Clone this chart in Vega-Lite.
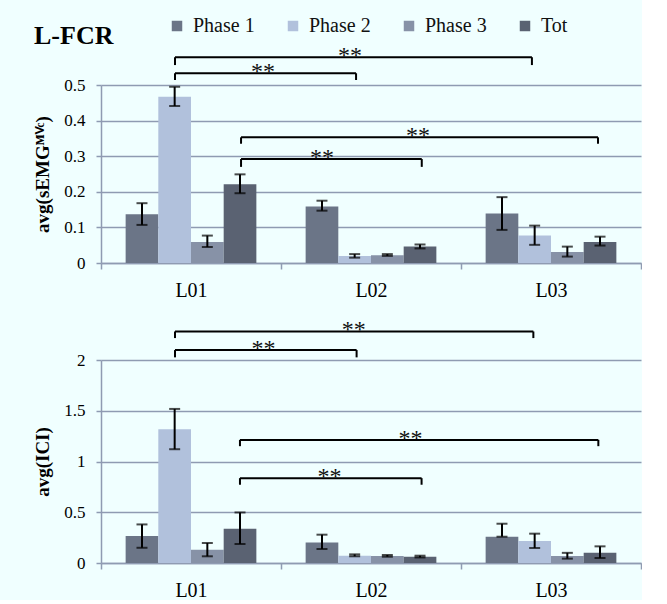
{
  "$schema": "https://vega.github.io/schema/vega-lite/v6.json",
  "background": "#f0ffff",
  "padding": {"left": 33, "top": 16, "right": 0, "bottom": 0},
  "config": {
    "view": {"stroke": null},
    "axis": {
      "labelFont": "Liberation Serif", "labelColor": "black",
      "titleFont": "Liberation Serif", "titleColor": "black", "titleFontWeight": "bold", "titleFontSize": 19,
      "domainColor": "#8f9bb2", "domainWidth": 1.5, "tickColor": "#8f9bb2", "tickWidth": 1.5,
      "gridColor": "#8f9bb2", "gridWidth": 1.5, "labelOverlap": false
    }
  },
  "datasets": {
    "emg": [
      {"loc": "L01", "phase": "Phase 1", "v": 0.137, "lo": 0.107, "hi": 0.168},
      {"loc": "L01", "phase": "Phase 2", "v": 0.467, "lo": 0.441, "hi": 0.495},
      {"loc": "L01", "phase": "Phase 3", "v": 0.059, "lo": 0.045, "hi": 0.077},
      {"loc": "L01", "phase": "Tot", "v": 0.221, "lo": 0.196, "hi": 0.249},
      {"loc": "L02", "phase": "Phase 1", "v": 0.159, "lo": 0.147, "hi": 0.175},
      {"loc": "L02", "phase": "Phase 2", "v": 0.020, "lo": 0.015, "hi": 0.025},
      {"loc": "L02", "phase": "Phase 3", "v": 0.022, "lo": 0.020, "hi": 0.025},
      {"loc": "L02", "phase": "Tot", "v": 0.046, "lo": 0.041, "hi": 0.052},
      {"loc": "L03", "phase": "Phase 1", "v": 0.139, "lo": 0.093, "hi": 0.185},
      {"loc": "L03", "phase": "Phase 2", "v": 0.077, "lo": 0.051, "hi": 0.105},
      {"loc": "L03", "phase": "Phase 3", "v": 0.031, "lo": 0.018, "hi": 0.046},
      {"loc": "L03", "phase": "Tot", "v": 0.059, "lo": 0.049, "hi": 0.074}
    ],
    "ici": [
      {"loc": "L01", "phase": "Phase 1", "v": 0.266, "lo": 0.150, "hi": 0.380},
      {"loc": "L01", "phase": "Phase 2", "v": 1.318, "lo": 1.121, "hi": 1.518},
      {"loc": "L01", "phase": "Phase 3", "v": 0.131, "lo": 0.066, "hi": 0.197},
      {"loc": "L01", "phase": "Tot", "v": 0.338, "lo": 0.187, "hi": 0.498},
      {"loc": "L02", "phase": "Phase 1", "v": 0.203, "lo": 0.138, "hi": 0.279},
      {"loc": "L02", "phase": "Phase 2", "v": 0.072, "lo": 0.066, "hi": 0.085},
      {"loc": "L02", "phase": "Phase 3", "v": 0.069, "lo": 0.062, "hi": 0.079},
      {"loc": "L02", "phase": "Tot", "v": 0.062, "lo": 0.055, "hi": 0.072},
      {"loc": "L03", "phase": "Phase 1", "v": 0.259, "lo": 0.259, "hi": 0.387},
      {"loc": "L03", "phase": "Phase 2", "v": 0.216, "lo": 0.148, "hi": 0.289},
      {"loc": "L03", "phase": "Phase 3", "v": 0.069, "lo": 0.043, "hi": 0.100},
      {"loc": "L03", "phase": "Tot", "v": 0.102, "lo": 0.049, "hi": 0.164}
    ],
    "emgBr": [
      {"x1": 0.411, "x2": 1.417, "y": 0.533, "yd": 0.514, "xm": 0.9},
      {"x1": 0.411, "x2": 2.394, "y": 0.578, "yd": 0.556, "xm": 1.383},
      {"x1": 0.778, "x2": 1.782, "y": 0.292, "yd": 0.270, "xm": 1.228},
      {"x1": 0.778, "x2": 2.761, "y": 0.353, "yd": 0.335, "xm": 1.761}
    ],
    "iciBr": [
      {"x1": 0.411, "x2": 1.42, "y": 2.098, "yd": 2.026, "xm": 0.903},
      {"x1": 0.411, "x2": 2.402, "y": 2.281, "yd": 2.216, "xm": 1.404},
      {"x1": 0.772, "x2": 1.781, "y": 0.836, "yd": 0.771, "xm": 1.27},
      {"x1": 0.772, "x2": 2.763, "y": 1.213, "yd": 1.151, "xm": 1.72}
    ]
  },
  "resolve": {"scale": {"color": "independent"}},
  "spacing": 18,
  "vconcat": [
    {
      "width": 540, "height": 178,
      "layer": [
        {
          "data": {"name": "emg"},
          "encoding": {
            "x": {"field": "loc", "type": "nominal", "scale": {"paddingInner": 0, "paddingOuter": 0},
                  "axis": {"title": null, "labelAngle": 0, "labelFontSize": 20, "labelPadding": 11, "tickSize": 6, "tickBand": "extent"}},
            "xOffset": {"field": "phase", "type": "nominal", "sort": ["Phase 1", "Phase 2", "Phase 3", "Tot"], "scale": {"paddingInner": 0, "paddingOuter": 0.754}}
          },
          "layer": [
            {
              "mark": {"type": "bar"},
              "encoding": {
                "y": {"field": "v", "type": "quantitative", "scale": {"domain": [0, 0.5], "nice": false},
                      "axis": {"title": "avg(sEMGᴹⱽᶜ)", "values": [0, 0.1, 0.2, 0.3, 0.4, 0.5], "format": "~g", "labelFontSize": 17, "labelPadding": 11, "tickSize": 5, "titlePadding": 11}},
                "color": {"field": "phase", "type": "nominal",
                          "scale": {"domain": ["Phase 1", "Phase 2", "Phase 3", "Tot"], "range": ["#6b7587", "#b1c1dc", "#8792a7", "#5a6272"]},
                          "legend": {"orient": "none", "legendX": -67, "legendY": -69, "direction": "horizontal",
                                     "title": "L-FCR", "titleOrient": "left", "titleAnchor": "end", "titleBaseline": "middle",
                                     "titleFont": "Liberation Serif", "titleFontSize": 26,
                                     "titleFontWeight": "bold", "titleColor": "black", "titlePadding": 53,
                                     "labelFont": "Liberation Serif", "labelFontSize": 20, "labelColor": "#111", "labelOffset": 6,
                                     "symbolType": "square", "symbolSize": 110, "symbolStrokeWidth": 0, "columnPadding": 28}}
              }
            },
            {
              "mark": {"type": "rule", "color": "black", "strokeWidth": 2},
              "encoding": {"y": {"field": "lo", "type": "quantitative",
                      "axis": {"title": "avg(sEMGᴹⱽᶜ)", "values": [0, 0.1, 0.2, 0.3, 0.4, 0.5], "format": "~g", "labelFontSize": 17, "labelPadding": 11, "tickSize": 5, "titlePadding": 11}},
                           "y2": {"field": "hi"}}
            },
            {
              "mark": {"type": "tick", "orient": "horizontal", "color": "black", "thickness": 2, "size": 11},
              "encoding": {"y": {"field": "lo", "type": "quantitative",
                      "axis": {"title": "avg(sEMGᴹⱽᶜ)", "values": [0, 0.1, 0.2, 0.3, 0.4, 0.5], "format": "~g", "labelFontSize": 17, "labelPadding": 11, "tickSize": 5, "titlePadding": 11}}}
            },
            {
              "mark": {"type": "tick", "orient": "horizontal", "color": "black", "thickness": 2, "size": 11},
              "encoding": {"y": {"field": "hi", "type": "quantitative",
                      "axis": {"title": "avg(sEMGᴹⱽᶜ)", "values": [0, 0.1, 0.2, 0.3, 0.4, 0.5], "format": "~g", "labelFontSize": 17, "labelPadding": 11, "tickSize": 5, "titlePadding": 11}}}
            }
          ]
        },
        {
          "data": {"name": "emgBr"},
          "layer": [
            {
              "mark": {"type": "rule", "color": "black", "strokeWidth": 2},
              "encoding": {
                "x": {"field": "x1", "type": "quantitative", "scale": {"domain": [0, 3], "nice": false}, "axis": null},
                "x2": {"field": "x2"},
                "y": {"field": "y", "type": "quantitative", "scale": {"domain": [0, 0.5], "nice": false},
                      "axis": {"title": "avg(sEMGᴹⱽᶜ)", "values": [0, 0.1, 0.2, 0.3, 0.4, 0.5], "format": "~g", "labelFontSize": 17, "labelPadding": 11, "tickSize": 5, "titlePadding": 11}}
              }
            },
            {
              "mark": {"type": "rule", "color": "black", "strokeWidth": 2},
              "encoding": {
                "x": {"field": "x1", "type": "quantitative"},
                "y": {"field": "y", "type": "quantitative",
                      "axis": {"title": "avg(sEMGᴹⱽᶜ)", "values": [0, 0.1, 0.2, 0.3, 0.4, 0.5], "format": "~g", "labelFontSize": 17, "labelPadding": 11, "tickSize": 5, "titlePadding": 11}},
                "y2": {"field": "yd"}
              }
            },
            {
              "mark": {"type": "rule", "color": "black", "strokeWidth": 2},
              "encoding": {
                "x": {"field": "x2", "type": "quantitative"},
                "y": {"field": "y", "type": "quantitative",
                      "axis": {"title": "avg(sEMGᴹⱽᶜ)", "values": [0, 0.1, 0.2, 0.3, 0.4, 0.5], "format": "~g", "labelFontSize": 17, "labelPadding": 11, "tickSize": 5, "titlePadding": 11}},
                "y2": {"field": "yd"}
              }
            },
            {
              "mark": {"type": "text", "text": "**", "font": "Liberation Serif", "fontSize": 24, "baseline": "alphabetic", "dy": 6, "color": "#111"},
              "encoding": {
                "x": {"field": "xm", "type": "quantitative"},
                "y": {"field": "y", "type": "quantitative",
                      "axis": {"title": "avg(sEMGᴹⱽᶜ)", "values": [0, 0.1, 0.2, 0.3, 0.4, 0.5], "format": "~g", "labelFontSize": 17, "labelPadding": 11, "tickSize": 5, "titlePadding": 11}}
              }
            }
          ]
        }
      ],
      "resolve": {"scale": {"x": "independent"}}
    },
    {
      "width": 540, "height": 203,
      "layer": [
        {
          "data": {"name": "ici"},
          "encoding": {
            "x": {"field": "loc", "type": "nominal", "scale": {"paddingInner": 0, "paddingOuter": 0},
                  "axis": {"title": null, "labelAngle": 0, "labelFontSize": 20, "labelPadding": 11, "tickSize": 6, "tickBand": "extent"}},
            "xOffset": {"field": "phase", "type": "nominal", "sort": ["Phase 1", "Phase 2", "Phase 3", "Tot"], "scale": {"paddingInner": 0, "paddingOuter": 0.754}}
          },
          "layer": [
            {
              "mark": {"type": "bar"},
              "encoding": {
                "y": {"field": "v", "type": "quantitative", "scale": {"domain": [0, 2], "nice": false},
                      "axis": {"title": "avg(ICI)", "values": [0, 0.5, 1, 1.5, 2], "format": "~g", "labelFontSize": 17, "labelPadding": 11, "tickSize": 5, "titlePadding": 11}},
                "color": {"field": "phase", "type": "nominal",
                          "scale": {"domain": ["Phase 1", "Phase 2", "Phase 3", "Tot"], "range": ["#6b7587", "#b1c1dc", "#8792a7", "#5a6272"]},
                          "legend": null}
              }
            },
            {
              "mark": {"type": "rule", "color": "black", "strokeWidth": 2},
              "encoding": {"y": {"field": "lo", "type": "quantitative",
                      "axis": {"title": "avg(ICI)", "values": [0, 0.5, 1, 1.5, 2], "format": "~g", "labelFontSize": 17, "labelPadding": 11, "tickSize": 5, "titlePadding": 11}},
                           "y2": {"field": "hi"}}
            },
            {
              "mark": {"type": "tick", "orient": "horizontal", "color": "black", "thickness": 2, "size": 11},
              "encoding": {"y": {"field": "lo", "type": "quantitative",
                      "axis": {"title": "avg(ICI)", "values": [0, 0.5, 1, 1.5, 2], "format": "~g", "labelFontSize": 17, "labelPadding": 11, "tickSize": 5, "titlePadding": 11}}}
            },
            {
              "mark": {"type": "tick", "orient": "horizontal", "color": "black", "thickness": 2, "size": 11},
              "encoding": {"y": {"field": "hi", "type": "quantitative",
                      "axis": {"title": "avg(ICI)", "values": [0, 0.5, 1, 1.5, 2], "format": "~g", "labelFontSize": 17, "labelPadding": 11, "tickSize": 5, "titlePadding": 11}}}
            }
          ]
        },
        {
          "data": {"name": "iciBr"},
          "layer": [
            {
              "mark": {"type": "rule", "color": "black", "strokeWidth": 2},
              "encoding": {
                "x": {"field": "x1", "type": "quantitative", "scale": {"domain": [0, 3], "nice": false}, "axis": null},
                "x2": {"field": "x2"},
                "y": {"field": "y", "type": "quantitative", "scale": {"domain": [0, 2], "nice": false},
                      "axis": {"title": "avg(ICI)", "values": [0, 0.5, 1, 1.5, 2], "format": "~g", "labelFontSize": 17, "labelPadding": 11, "tickSize": 5, "titlePadding": 11}}
              }
            },
            {
              "mark": {"type": "rule", "color": "black", "strokeWidth": 2},
              "encoding": {
                "x": {"field": "x1", "type": "quantitative"},
                "y": {"field": "y", "type": "quantitative",
                      "axis": {"title": "avg(ICI)", "values": [0, 0.5, 1, 1.5, 2], "format": "~g", "labelFontSize": 17, "labelPadding": 11, "tickSize": 5, "titlePadding": 11}},
                "y2": {"field": "yd"}
              }
            },
            {
              "mark": {"type": "rule", "color": "black", "strokeWidth": 2},
              "encoding": {
                "x": {"field": "x2", "type": "quantitative"},
                "y": {"field": "y", "type": "quantitative",
                      "axis": {"title": "avg(ICI)", "values": [0, 0.5, 1, 1.5, 2], "format": "~g", "labelFontSize": 17, "labelPadding": 11, "tickSize": 5, "titlePadding": 11}},
                "y2": {"field": "yd"}
              }
            },
            {
              "mark": {"type": "text", "text": "**", "font": "Liberation Serif", "fontSize": 24, "baseline": "alphabetic", "dy": 6, "color": "#111"},
              "encoding": {
                "x": {"field": "xm", "type": "quantitative"},
                "y": {"field": "y", "type": "quantitative",
                      "axis": {"title": "avg(ICI)", "values": [0, 0.5, 1, 1.5, 2], "format": "~g", "labelFontSize": 17, "labelPadding": 11, "tickSize": 5, "titlePadding": 11}}
              }
            }
          ]
        }
      ],
      "resolve": {"scale": {"x": "independent"}}
    }
  ]
}
